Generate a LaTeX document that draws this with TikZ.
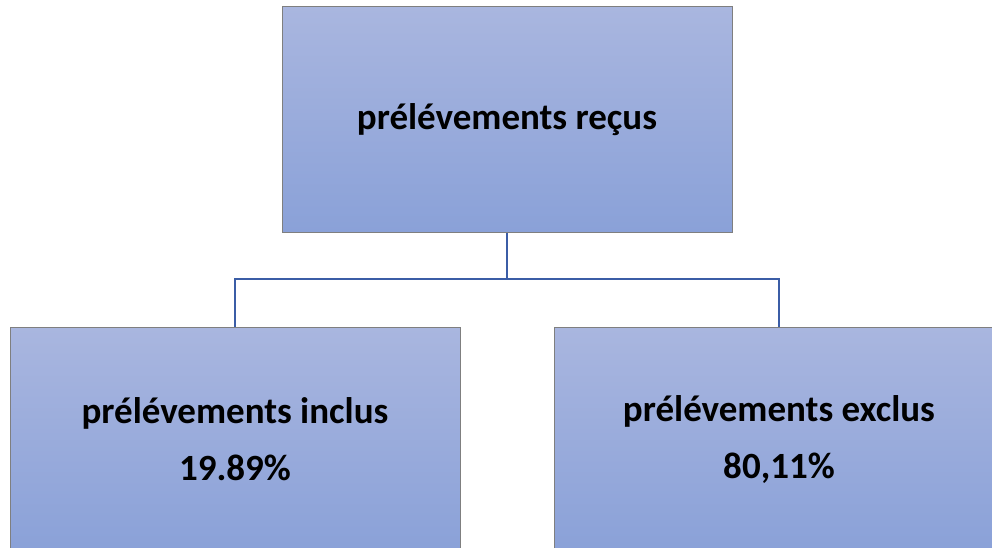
\documentclass[tikz,border=0pt]{standalone}
\usepackage{fontspec}
\setmainfont{Carlito}
\usepackage{tikz}

\definecolor{boxtop}{HTML}{A9B6DF}
\definecolor{boxbot}{HTML}{8AA1D8}
\definecolor{boxline}{HTML}{7F7F7F}
\definecolor{linkblue}{HTML}{3B5DA6}

\begin{document}
\begin{tikzpicture}[x=1pt,y=-1pt,
        box/.style = {draw=boxline, line width=1pt, rectangle, minimum width=450pt, minimum height=225pt,
                      top color=boxtop, bottom color=boxbot, align=center,
                      font=\fontsize{37}{57}\selectfont\bfseries},
        link/.style = {draw=linkblue, line width=2pt}]
        \useasboundingbox[fill=white] (0,0) rectangle (992,548);
        \node[box] (recus) at (507,119.5) {prélévements reçus};
        \node[box] (inclus) at (235,439.5) {prélévements inclus\\19.89\%};
        \node[box] (exclus) at (779,439.5) {prélévements exclus\\80,11\%};
        \coordinate (fork) at (507,279);
        \draw[link] (recus.south) -- (fork) -| (inclus.north);
        \draw[link] (fork) -| (exclus.north);
\end{tikzpicture}
\end{document}
